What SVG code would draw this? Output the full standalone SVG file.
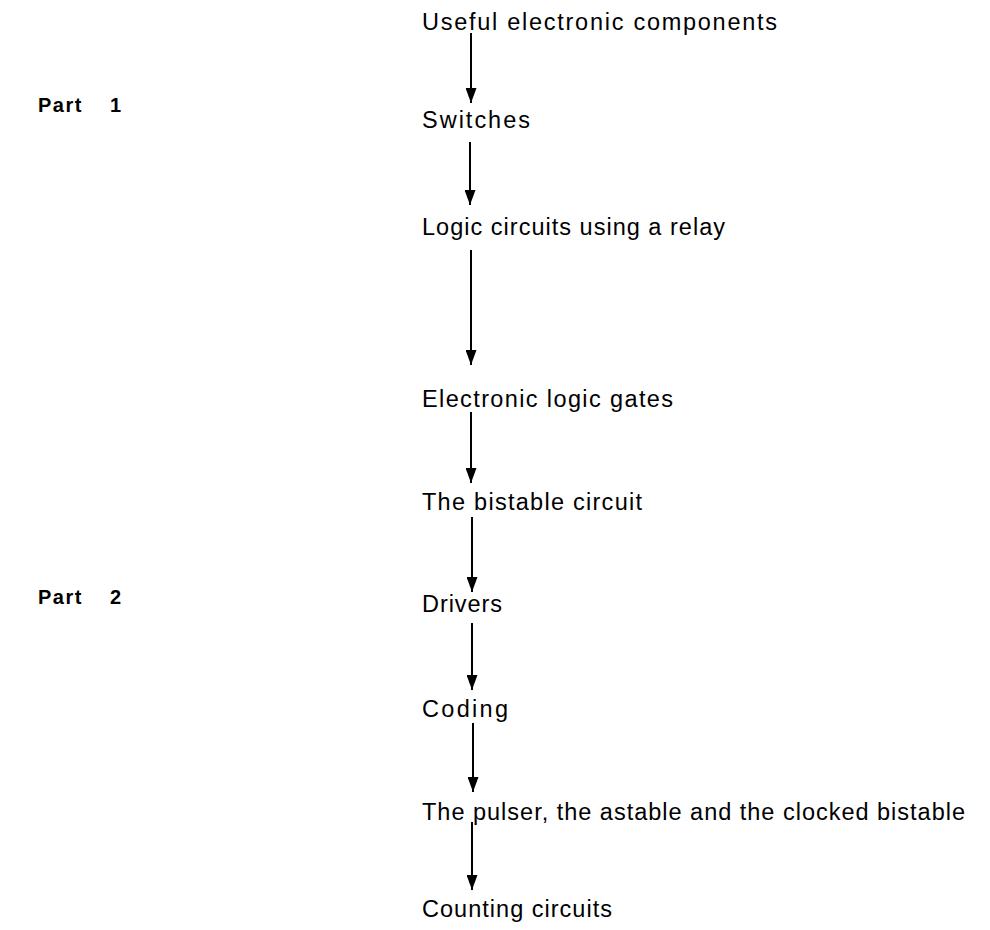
<svg xmlns="http://www.w3.org/2000/svg" width="990" height="930" viewBox="0 0 990 930">
<style>
  .t { font-family: "Liberation Sans", Arial, sans-serif; font-size: 23.5px; fill: #000; }
  .p { font-family: "Liberation Sans", Arial, sans-serif; font-size: 20px; font-weight: bold; fill: #000; letter-spacing: 1.5px; }
  .c { stroke: #000; stroke-width: 2; fill: none; marker-end: url(#ah); }
</style>
<defs>
  <marker id="ah" markerUnits="userSpaceOnUse" markerWidth="15" markerHeight="11" refX="15" refY="5.5" orient="auto">
    <path d="M0,0 L15,5.5 L0,11 z" fill="#000"/>
  </marker>
</defs>
<rect width="990" height="930" fill="#fff"/>
<g id="labels">
  <text class="p" x="38" y="112">Part</text><text class="p" x="110" y="112">1</text>
  <text class="p" x="38" y="604">Part</text><text class="p" x="110" y="604">2</text>
</g>
<g id="n1"><text class="t" x="422" y="30" textLength="355" lengthAdjust="spacing">Useful electronic components</text></g>
<g id="n2"><text class="t" x="422" y="128" textLength="108" lengthAdjust="spacing">Switches</text></g>
<g id="n3"><text class="t" x="422" y="235" textLength="303" lengthAdjust="spacing">Logic circuits using a relay</text></g>
<g id="n4"><text class="t" x="422" y="407" textLength="251" lengthAdjust="spacing">Electronic logic gates</text></g>
<g id="n5"><text class="t" x="422" y="510" textLength="220" lengthAdjust="spacing">The bistable circuit</text></g>
<g id="n6"><text class="t" x="422" y="612" textLength="80" lengthAdjust="spacing">Drivers</text></g>
<g id="n7"><text class="t" x="422" y="717" textLength="86" lengthAdjust="spacing">Coding</text></g>
<g id="n8"><text class="t" x="422" y="820" textLength="543" lengthAdjust="spacing">The pulser, the astable and the clocked bistable</text></g>
<g id="n9"><text class="t" x="422" y="917" textLength="190" lengthAdjust="spacing">Counting circuits</text></g>
<g id="connectors">
  <line class="c" x1="471" y1="33" x2="471" y2="103"/>
  <line class="c" x1="470" y1="142" x2="470" y2="205"/>
  <line class="c" x1="471" y1="250" x2="471" y2="365"/>
  <line class="c" x1="471" y1="412" x2="471" y2="483"/>
  <line class="c" x1="472" y1="517" x2="472" y2="592"/>
  <line class="c" x1="472" y1="623" x2="472" y2="690"/>
  <line class="c" x1="473" y1="723" x2="473" y2="792"/>
  <line class="c" x1="472" y1="822" x2="472" y2="890"/>
</g>
</svg>
